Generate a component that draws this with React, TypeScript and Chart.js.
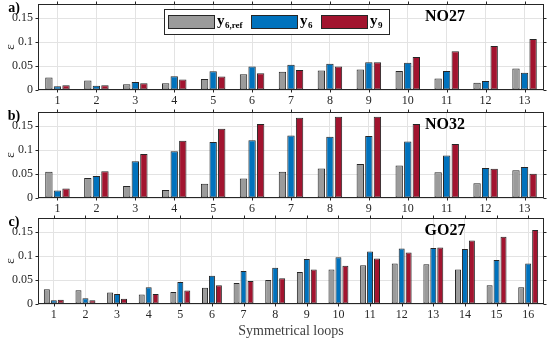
import React, { useEffect, useRef } from 'react';
import { Chart, registerables } from 'chart.js';

Chart.register(...registerables);

// ---------- data ----------
const seriesBase = ['y', 'y', 'y'];
const seriesSub = ['6,ref', '6', '9'];
const seriesColors = ['#9b9b9b', '#0072bd', '#a2142f'];

const catsA = ['1', '2', '3', '4', '5', '6', '7', '8', '9', '10', '11', '12', '13'];
const aRef = [0.026, 0.020, 0.012, 0.014, 0.023, 0.033, 0.038, 0.041, 0.043, 0.040, 0.024, 0.015, 0.045];
const aY6 = [0.008, 0.009, 0.017, 0.029, 0.039, 0.049, 0.053, 0.055, 0.058, 0.057, 0.040, 0.019, 0.036];
const aY9 = [0.010, 0.010, 0.014, 0.022, 0.028, 0.035, 0.042, 0.049, 0.058, 0.069, 0.081, 0.092, 0.107];

const catsB = ['1', '2', '3', '4', '5', '6', '7', '8', '9', '10', '11', '12', '13'];
const bRef = [0.055, 0.042, 0.025, 0.017, 0.030, 0.041, 0.055, 0.062, 0.071, 0.068, 0.054, 0.031, 0.058];
const bY6 = [0.0155, 0.046, 0.077, 0.098, 0.117, 0.121, 0.131, 0.128, 0.130, 0.118, 0.089, 0.063, 0.065];
const bY9 = [0.020, 0.056, 0.092, 0.120, 0.145, 0.155, 0.168, 0.170, 0.170, 0.155, 0.113, 0.061, 0.051];

const catsC = ['1', '2', '3', '4', '5', '6', '7', '8', '9', '10', '11', '12', '13', '14', '15', '16'];
const cRef = [0.031, 0.029, 0.024, 0.020, 0.025, 0.034, 0.044, 0.050, 0.067, 0.072, 0.081, 0.085, 0.083, 0.072, 0.039, 0.035];
const cY6 = [0.008, 0.012, 0.021, 0.035, 0.046, 0.059, 0.069, 0.076, 0.094, 0.098, 0.110, 0.116, 0.117, 0.115, 0.092, 0.085];
const cY9 = [0.009, 0.008, 0.011, 0.021, 0.028, 0.039, 0.048, 0.054, 0.072, 0.080, 0.095, 0.108, 0.118, 0.133, 0.141, 0.155];

const yTicks = [0, 0.05, 0.1, 0.15];
const yTickLabels = ['0', '0.05', '0.1', '0.15'];
const Y_MAX = 0.18;

const panelTags = ['a)', 'b)', 'c)'];
const panelTitles = ['NO27', 'NO32', 'GO27'];
const xAxisTitle = 'Symmetrical loops';
const yAxisTitle = 'ε';

// ---------- style ----------
const FONT = "'Liberation Serif', 'Times New Roman', serif";
const AXIS_COLOR = '#262626';
const GRID_COLOR = '#e3e3e3';

type PanelCfg = {
  top: number;
  height: number;
  padTop: number;
  xAxisH: number;
  cats: string[];
  series: number[][];
  tag: string;
  title: string;
  legend: boolean;
  xTitle: boolean;
};

const panels: PanelCfg[] = [
  { top: 0, height: 108, padTop: 4, xAxisH: 18, cats: catsA, series: [aRef, aY6, aY9], tag: panelTags[0], title: panelTitles[0], legend: true, xTitle: false },
  { top: 108, height: 107, padTop: 4, xAxisH: 17, cats: catsB, series: [bRef, bY6, bY9], tag: panelTags[1], title: panelTitles[1], legend: false, xTitle: false },
  { top: 215, height: 127, padTop: 3, xAxisH: 38, cats: catsC, series: [cRef, cY6, cY9], tag: panelTags[2], title: panelTitles[2], legend: false, xTitle: true },
];

function drawLabelWithSub(ctx: CanvasRenderingContext2D, base: string, sub: string, x: number, y: number) {
  ctx.textAlign = 'left';
  ctx.textBaseline = 'alphabetic';
  ctx.font = `bold 15px ${FONT}`;
  ctx.fillText(base, x, y);
  const w = ctx.measureText(base).width;
  ctx.font = `bold 9px ${FONT}`;
  ctx.fillText(sub, x + w + 0.5, y + 3);
}

const decorPlugin = {
  id: 'decor',
  beforeDatasetsDraw(chart: any) {
    // nothing
  },
  afterDraw(chart: any, _args: any, opts: any) {
    const ctx: CanvasRenderingContext2D = chart.ctx;
    const ca = chart.chartArea;
    const xs = chart.scales.x;
    const ys = chart.scales.y;
    ctx.save();
    // box
    ctx.strokeStyle = AXIS_COLOR;
    ctx.lineWidth = 1;
    const L = Math.round(ca.left) + 0.5;
    const R = Math.round(ca.right) - 0.5;
    const T = Math.round(ca.top) + 0.5;
    const B = Math.round(ca.bottom) - 0.5;
    ctx.strokeRect(L, T, R - L, B - T);
    // outward ticks
    const tl = 3;
    ctx.beginPath();
    for (let i = 0; i < opts.cats.length; i++) {
      const px = Math.round(xs.getPixelForValue(i)) + 0.5;
      ctx.moveTo(px, B);
      ctx.lineTo(px, B + tl);
      ctx.moveTo(px, T);
      ctx.lineTo(px, T - tl);
    }
    for (const v of yTicks) {
      const py = Math.round(ys.getPixelForValue(v)) + 0.5;
      ctx.moveTo(L, py);
      ctx.lineTo(L - tl, py);
      ctx.moveTo(R, py);
      ctx.lineTo(R + tl, py);
    }
    ctx.stroke();

    // tag
    ctx.fillStyle = '#000';
    ctx.font = `bold 14px ${FONT}`;
    ctx.textAlign = 'center';
    ctx.textBaseline = 'middle';
    ctx.fillText(opts.tag, 14, ca.top + 4.5);

    // y axis title
    ctx.save();
    ctx.translate(11, (ca.top + ca.bottom) / 2);
    ctx.rotate(-Math.PI / 2);
    ctx.font = `13px ${FONT}`;
    ctx.fillStyle = AXIS_COLOR;
    ctx.textAlign = 'center';
    ctx.textBaseline = 'middle';
    ctx.fillText(yAxisTitle, 0, 0);
    ctx.restore();

    // panel title
    ctx.fillStyle = '#000';
    ctx.font = `bold 16px ${FONT}`;
    ctx.textAlign = 'center';
    ctx.textBaseline = 'middle';
    ctx.fillText(opts.title, 445, ca.top + 12.5);

    // x axis title
    if (opts.xTitle) {
      ctx.fillStyle = '#404040';
      ctx.font = `14px ${FONT}`;
      ctx.textAlign = 'center';
      ctx.textBaseline = 'middle';
      ctx.fillText(xAxisTitle, (ca.left + ca.right) / 2, ca.bottom + 27);
    }

    // legend
    if (opts.legend) {
      const bx = 164.5, by = 9.5, bw = 225, bh = 25;
      ctx.fillStyle = '#fff';
      ctx.fillRect(bx, by, bw, bh);
      ctx.strokeStyle = AXIS_COLOR;
      ctx.strokeRect(bx, by, bw, bh);
      const swX = [168, 251, 321];
      const swW = 46;
      for (let i = 0; i < 3; i++) {
        ctx.fillStyle = seriesColors[i];
        ctx.fillRect(swX[i] + 0.5, 15.5, swW, 13);
        ctx.strokeStyle = AXIS_COLOR;
        ctx.strokeRect(swX[i] + 0.5, 15.5, swW, 13);
        ctx.fillStyle = '#000';
        drawLabelWithSub(ctx, seriesBase[i], seriesSub[i], swX[i] + swW + 3, 25);
      }
    }
    ctx.restore();
  },
};

function Panel({ cfg }: { cfg: PanelCfg }) {
  const ref = useRef<HTMLCanvasElement | null>(null);
  useEffect(() => {
    if (!ref.current) return;
    const chart = new Chart(ref.current, {
      type: 'bar',
      data: {
        labels: cfg.cats,
        datasets: cfg.series.map((d, i) => ({
          label: seriesBase[i] + seriesSub[i],
          data: d,
          backgroundColor: seriesColors[i],
          borderColor: AXIS_COLOR,
          borderWidth: 1,
          borderSkipped: false,
          categoryPercentage: 0.66,
          barPercentage: 0.86,
        })),
      },
      options: {
        responsive: false,
        animation: false,
        devicePixelRatio: 1,
        layout: { padding: { left: 0, right: 6, top: cfg.padTop, bottom: 0 } },
        plugins: {
          legend: { display: false },
          tooltip: { enabled: false },
          decor: { cats: cfg.cats, tag: cfg.tag, title: cfg.title, legend: cfg.legend, xTitle: cfg.xTitle },
        } as any,
        scales: {
          x: {
            offset: true,
            grid: { display: true, offset: false, color: GRID_COLOR, drawTicks: false },
            border: { display: false },
            ticks: { color: AXIS_COLOR, font: { family: FONT, size: 12 }, padding: 4, maxRotation: 0, autoSkip: false },
            afterFit: (s: any) => {
              s.height = cfg.xAxisH;
              s.paddingLeft = 0;
              s.paddingRight = 0;
            },
          },
          y: {
            min: 0,
            max: Y_MAX,
            grid: { color: GRID_COLOR, drawTicks: false },
            border: { display: false },
            ticks: {
              color: AXIS_COLOR,
              font: { family: FONT, size: 12 },
              padding: 5,
              callback: (v: any) => {
                const idx = yTicks.findIndex((t) => Math.abs(t - Number(v)) < 1e-9);
                return idx >= 0 ? yTickLabels[idx] : '';
              },
            },
            afterBuildTicks: (s: any) => {
              s.ticks = yTicks.map((v) => ({ value: v }));
            },
            afterFit: (s: any) => {
              s.width = 38;
              s.paddingTop = 0;
              s.paddingBottom = 0;
            },
          },
        },
      },
      plugins: [decorPlugin],
    } as any);
    return () => chart.destroy();
  }, [cfg]);
  return (
    <canvas
      ref={ref}
      width={550}
      height={cfg.height}
      style={{ position: 'absolute', left: 0, top: cfg.top, width: 550, height: cfg.height, display: 'block' }}
    />
  );
}

export default function App() {
  return (
    <div style={{ position: 'absolute', left: 0, top: 0, width: 550, height: 342, background: '#fff' }}>
      {panels.map((p, i) => (
        <Panel key={i} cfg={p} />
      ))}
    </div>
  );
}
